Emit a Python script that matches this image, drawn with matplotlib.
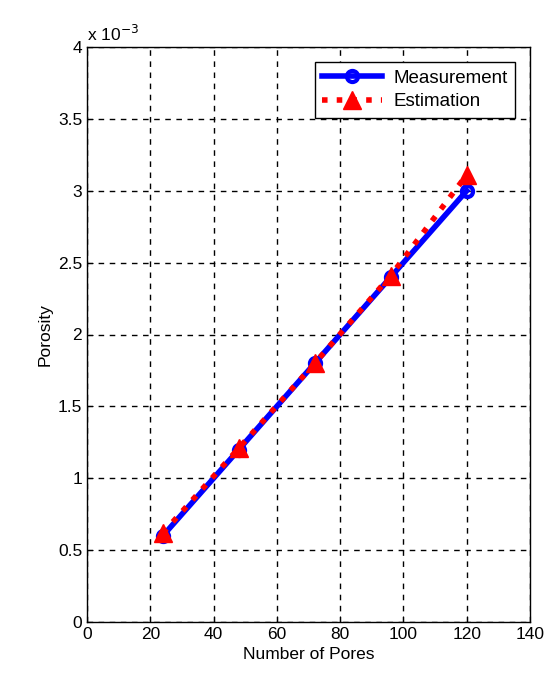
import matplotlib
matplotlib.use("Agg")
import matplotlib.pyplot as plt
import numpy as np

pores = [24, 48, 72, 96, 120]
measurement = [0.60e-3, 1.20e-3, 1.80e-3, 2.40e-3, 3.00e-3]
estimation = [0.62e-3, 1.21e-3, 1.80e-3, 2.41e-3, 3.11e-3]
xticks = [0, 20, 40, 60, 80, 100, 120, 140]
yticks = [0, 0.5, 1, 1.5, 2, 2.5, 3, 3.5, 4]

plt.rcParams['font.family'] = ['Liberation Sans', 'DejaVu Sans']
fig = plt.figure(figsize=(5.46, 6.8), dpi=100)
ax = fig.add_axes([87/546, 58/680, 443/546, 575/680])

ax.plot(pores, measurement, color='blue', linestyle='-', linewidth=4,
        marker='o', markersize=8, markerfacecolor='none', markeredgecolor='blue',
        markeredgewidth=3, label='Measurement')
ax.plot(pores, estimation, color='red', linestyle=':', linewidth=4,
        marker='^', markersize=13, markerfacecolor='red', markeredgecolor='red',
        label='Estimation')

ax.set_xlim(0, 140)
ax.set_ylim(0, 4e-3)
ax.set_xticks(xticks)
ax.set_yticks([v * 1e-3 for v in yticks])
ax.set_yticklabels([('%g' % v) for v in yticks])
ax.set_xticklabels([str(v) for v in xticks])
ax.tick_params(direction='in', labelsize=12.5, length=4)
ax.grid(True, color='black', linestyle=(0, (4, 4)), linewidth=1)
for s in ax.spines.values():
    s.set_linewidth(1)

ax.text(0.0, 1.005, r'x 10$^{-3}$', transform=ax.transAxes, fontsize=12.5,
        ha='left', va='bottom')

ax.set_xlabel('Number of Pores', fontsize=12.5)
ax.set_ylabel('Porosity', fontsize=12.5)

leg = ax.legend(loc='upper right', fontsize=13.5, fancybox=False, framealpha=1,
                edgecolor='black', borderaxespad=0.8, handlelength=3.2,
                labelspacing=0.35, borderpad=0.4, handletextpad=0.6)
leg.get_frame().set_linewidth(1)

fig.savefig('out.png', dpi=100)
